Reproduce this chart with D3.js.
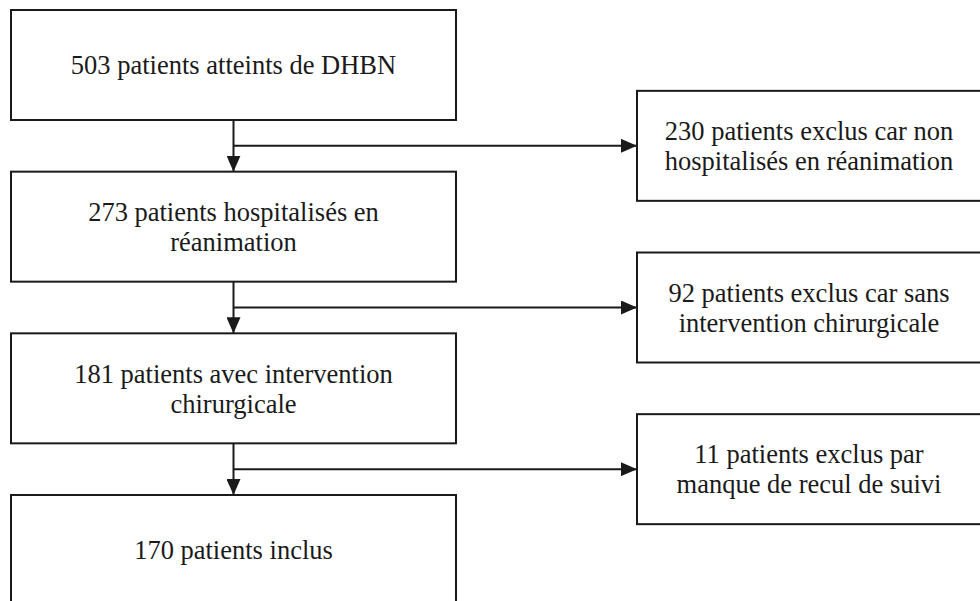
<!DOCTYPE html>
<html>
<head>
<meta charset="utf-8">
<script src="https://cdn.jsdelivr.net/npm/d3@7"></script>
<style>
  body { margin: 0; background: #fff; }
</style>
</head>
<body>
<svg id="flow" width="980" height="601"></svg>
<script>
// step labels (one entry per box, lines split)
var mainSteps = [
  ["503 patients atteints de DHBN"],
  ["273 patients hospitalisés en", "réanimation"],
  ["181 patients avec intervention", "chirurgicale"],
  ["170 patients inclus"]
];
var exclusions = [
  ["230 patients exclus car non", "hospitalisés en réanimation"],
  ["92 patients exclus car sans", "intervention chirurgicale"],
  ["11 patients exclus par", "manque de recul de suivi"]
];

var svg = d3.select('svg#flow');

var boxH = 110,
    mainX = 11, mainW = 445,
    sideX = 637, sideW = 344,
    fontSize = 26.5,
    lineGap = 30,
    stroke = "#1a1a1a";

// row positions
var rowY = d3.scaleLinear().domain([0, mainSteps.length - 1]).range([10, 495]);
var spineX = mainX + mainW / 2;

svg.append("defs").append("marker")
    .attr("id", "arrow")
    .attr("viewBox", "0 0 16 14")
    .attr("refX", 16).attr("refY", 7)
    .attr("markerWidth", 16).attr("markerHeight", 14)
    .attr("markerUnits", "userSpaceOnUse")
    .attr("orient", "auto")
  .append("path")
    .attr("d", "M0,0L16,7L0,14Z")
    .style("fill", stroke);

// one text element per line (tspans lose the font here)
function addLines(g, lines, cx, cy) {
  lines.forEach(function(l, i) {
    g.append("text")
      .attr("text-anchor", "middle")
      .attr("x", cx)
      .attr("y", cy - (lines.length - 1) * lineGap / 2 + i * lineGap + fontSize * 0.35)
      .style("font-family", "'Liberation Serif'")
      .style("fill", "#1a1a1a")
      .style("font-size", fontSize + "px")
      .text(l);
  });
}

// main boxes
mainSteps.forEach(function(lines, i) {
  var g = svg.append("g");
  g.append("rect")
    .attr("x", mainX).attr("y", rowY(i))
    .attr("width", mainW).attr("height", boxH)
    .style("fill", "none").style("stroke", stroke).style("stroke-width", 2);
  addLines(g, lines, spineX, rowY(i) + boxH / 2);
});

// connectors and exclusion boxes
exclusions.forEach(function(lines, i) {
  var top = rowY(i) + boxH,
      next = rowY(i + 1),
      midY = (top + next) / 2;

  svg.append("line")
    .attr("x1", spineX).attr("y1", top)
    .attr("x2", spineX).attr("y2", next)
    .attr("marker-end", "url(#arrow)")
    .style("stroke", stroke).style("stroke-width", 2);

  svg.append("line")
    .attr("x1", spineX).attr("y1", midY)
    .attr("x2", sideX).attr("y2", midY)
    .attr("marker-end", "url(#arrow)")
    .style("stroke", stroke).style("stroke-width", 2);

  var g = svg.append("g");
  g.append("rect")
    .attr("x", sideX).attr("y", midY - boxH / 2)
    .attr("width", sideW).attr("height", boxH)
    .style("fill", "none").style("stroke", stroke).style("stroke-width", 2);
  addLines(g, lines, sideX + sideW / 2, midY);
});
</script>
</body>
</html>
